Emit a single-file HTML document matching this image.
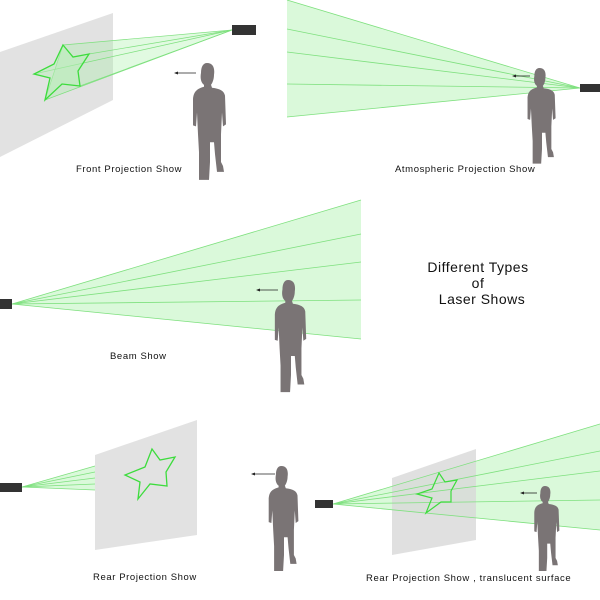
<!DOCTYPE html>
<html><head><meta charset="utf-8"><style>
html,body{margin:0;padding:0;background:#fff;}
svg{display:block;}
text{font-family:"Liberation Sans",sans-serif;fill:#111;}
.lbl{font-size:9.5px;letter-spacing:0.6px;}
</style></head><body>
<svg width="600" height="600" viewBox="0 0 600 600" xmlns="http://www.w3.org/2000/svg">
<defs>
<path id="p" fill="#7a7475" d="M17,0 C23,0 25,5 24,12 C24,17 22,21 21,22 L22,25 C30,26 34,28 35,33 L36,62 L33,64 L32,50 L31,72 L31,100 L33,104 L34,110 L27,110 L25,92 L24,80 L20,80 L20,100 L19,118 L9,118 L9,112 L9,90 L8,72 L7,50 L6,64 L3,63 L3,38 C3,29 7,26 14,24 L14,22 C11,20 10,15 11,10 C11,4 13,0 17,0 Z"/>
</defs>

<!-- FRONT -->
<polygon points="0,52 113,13 113,100 0,157" fill="#e2e2e2"/>
<g stroke="#7ee07e" stroke-width="0.7" fill="#9cf09c" fill-opacity="0.3">
<polygon points="232,30 63,45 45,100"/>
<line x1="232" y1="30" x2="89" y2="54"/><line x1="232" y1="30" x2="80" y2="86"/><line x1="232" y1="30" x2="34" y2="74"/>
</g>
<polygon points="63,45 73,57 89,54 78,71 80,86 62,84 45,100 50,78 34,74 54,64" fill="#b8f0b8" fill-opacity="0.5" stroke="#3ddc3d" stroke-width="1.3"/>
<rect x="232" y="25" width="24" height="10" fill="#333"/>
<use href="#p" transform="translate(190,63) scale(1,0.99)"/>
<line x1="176" y1="73" x2="196" y2="73" stroke="#222" stroke-width="0.8"/><polygon points="174,73 178,71.5 178,74.5" fill="#222"/>
<text class="lbl" x="76" y="172">Front Projection Show</text>

<!-- ATMOS -->
<polygon points="580,88 287,0 287,117" fill="#aef2ae" fill-opacity="0.45"/>
<g stroke="#7ee07e" stroke-width="0.8">
<line x1="580" y1="88" x2="287" y2="0"/><line x1="580" y1="88" x2="287" y2="29"/><line x1="580" y1="88" x2="287" y2="52"/><line x1="580" y1="88" x2="287" y2="84"/><line x1="580" y1="88" x2="287" y2="117"/>
</g>
<rect x="580" y="84" width="20" height="8" fill="#333"/>
<use href="#p" transform="translate(525,68) scale(0.85,0.81)"/>
<line x1="514" y1="76" x2="530" y2="76" stroke="#222" stroke-width="0.8"/><polygon points="512,76 516,74.5 516,77.5" fill="#222"/>
<text class="lbl" x="395" y="172">Atmospheric Projection Show</text>

<!-- BEAM -->
<polygon points="12,304 361,200 361,339" fill="#aef2ae" fill-opacity="0.45"/>
<g stroke="#7ee07e" stroke-width="0.8">
<line x1="12" y1="304" x2="361" y2="200"/><line x1="12" y1="304" x2="361" y2="234"/><line x1="12" y1="304" x2="361" y2="262"/><line x1="12" y1="304" x2="361" y2="300"/><line x1="12" y1="304" x2="361" y2="339"/>
</g>
<rect x="0" y="299" width="12" height="10" fill="#333"/>
<use href="#p" transform="translate(272,280) scale(0.95,0.95)"/>
<line x1="258" y1="290" x2="278" y2="290" stroke="#222" stroke-width="0.8"/><polygon points="256,290 260,288.5 260,291.5" fill="#222"/>
<text class="lbl" x="110" y="359">Beam Show</text>

<text x="478" y="272" text-anchor="middle" style="font-size:14px;letter-spacing:0.5px">Different Types</text>
<text x="478" y="288" text-anchor="middle" style="font-size:14px;letter-spacing:0.5px">of</text>
<text x="482" y="304" text-anchor="middle" style="font-size:14px;letter-spacing:0.5px">Laser Shows</text>

<!-- REAR -->
<polygon points="22,487 95,466 95,490" fill="#aef2ae" fill-opacity="0.45"/>
<g stroke="#7ee07e" stroke-width="0.7">
<line x1="22" y1="487" x2="95" y2="466"/><line x1="22" y1="487" x2="95" y2="472"/><line x1="22" y1="487" x2="95" y2="478"/><line x1="22" y1="487" x2="95" y2="484"/><line x1="22" y1="487" x2="95" y2="490"/>
</g>
<polygon points="95,455 197,420 197,535 95,550" fill="#e2e2e2"/>
<polygon points="152,449 160,460 175,457 166,472 167,486 150,484 138,499 140,482 125,475 145,467" fill="none" stroke="#3ddc3d" stroke-width="1.3"/>
<rect x="0" y="483" width="22" height="9" fill="#333"/>
<use href="#p" transform="translate(266,466) scale(0.9,0.89)"/>
<line x1="253" y1="474" x2="275" y2="474" stroke="#222" stroke-width="0.8"/><polygon points="251,474 255,472.5 255,475.5" fill="#222"/>
<text class="lbl" x="93" y="580">Rear Projection Show</text>

<!-- REAR TRANSLUCENT -->
<polygon points="333,504 600,424 600,530" fill="#aef2ae" fill-opacity="0.45"/>
<polygon points="392,478 476,449 476,540 392,555" fill="#d8d8d8" fill-opacity="0.8"/>
<g stroke="#7ee07e" stroke-width="0.8">
<line x1="333" y1="504" x2="600" y2="424"/><line x1="333" y1="504" x2="600" y2="451"/><line x1="333" y1="504" x2="600" y2="471"/><line x1="333" y1="504" x2="600" y2="500"/><line x1="333" y1="504" x2="600" y2="530"/>
</g>
<polygon points="439,473 445,482 457,480 451,491 451,502 441,502 426,513 432,498 417,494 432,489" fill="none" stroke="#3ddc3d" stroke-width="1.2"/>
<rect x="315" y="500" width="18" height="8" fill="#333"/>
<use href="#p" transform="translate(532,486) scale(0.76,0.72)"/>
<line x1="522" y1="493" x2="537" y2="493" stroke="#222" stroke-width="0.8"/><polygon points="520,493 524,491.5 524,494.5" fill="#222"/>
<text class="lbl" x="366" y="581">Rear Projection Show , translucent surface</text>
</svg>
</body></html>
